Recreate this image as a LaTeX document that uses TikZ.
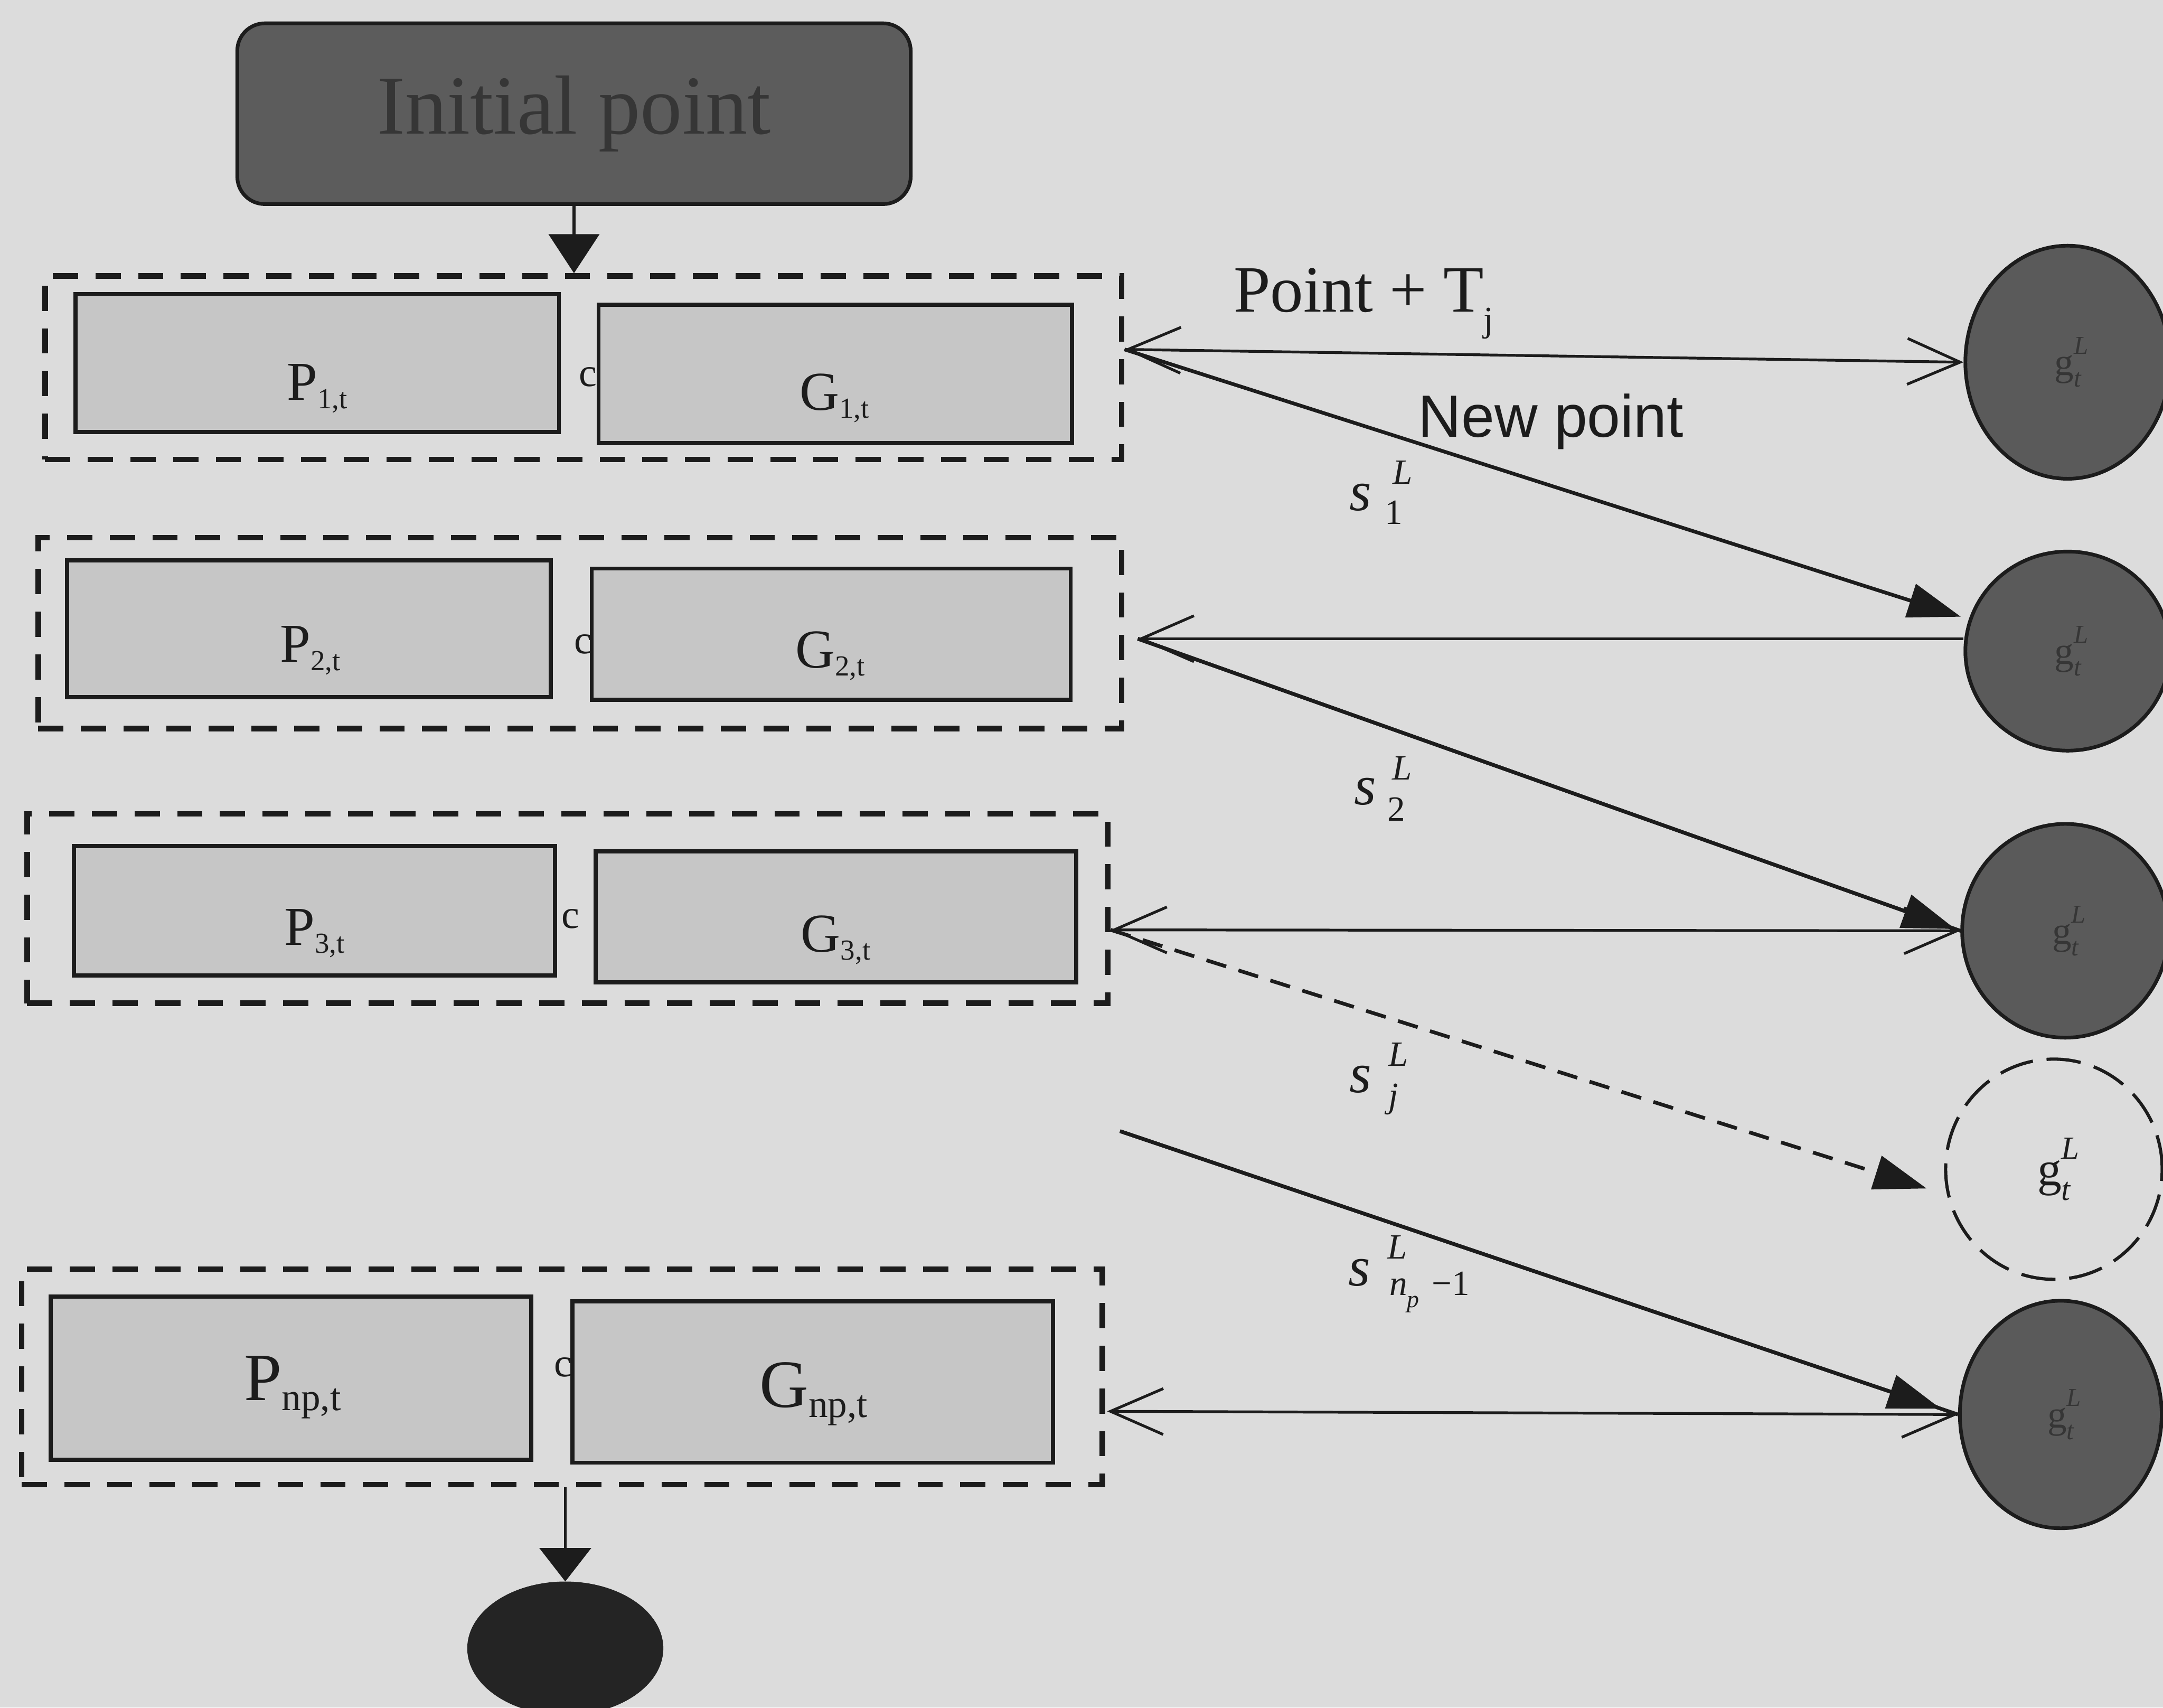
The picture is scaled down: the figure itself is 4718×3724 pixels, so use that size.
\documentclass[tikz,border=0pt]{standalone}
\usepackage{fontspec}
\setmainfont{Liberation Serif}
\newfontfamily\sansfont{Liberation Sans}
\usetikzlibrary{arrows.meta,shapes.geometric,calc}

\newcommand\fs[1]{\fontsize{#1}{#1}\selectfont}
% lowered index in a box label
\newcommand\lowidx[2]{\raisebox{-0.15em}{\fs{#1}#2}}
% g with stacked italic L and t
\newcommand\glabel[1]{g\rlap{\raisebox{0.55em}{\fs{#1}\itshape L}}\raisebox{-0.3em}{\fs{#1}\itshape t}}

\definecolor{bg}{HTML}{DCDCDC}
\definecolor{cellfill}{HTML}{C6C6C6}
\definecolor{darkfill}{HTML}{5A5A5A}
\definecolor{startfill}{HTML}{5C5C5C}
\definecolor{ink}{HTML}{1C1C1C}
\definecolor{endfill}{HTML}{242424}
\definecolor{dimtext}{HTML}{363636}

\begin{document}
\begin{tikzpicture}[x=0.01cm,y=-0.01cm,
  startbox/.style={rectangle, rounded corners=0.6cm, draw=ink, fill=startfill,
    line width=0.08cm, minimum width=14.68cm, minimum height=3.94cm,
    text=dimtext, font=\fs{52pt}},
  group/.style={rectangle, draw=ink, line width=0.12cm,
    dash pattern=on 0.55cm off 0.38cm, inner sep=0},
  cell/.style={rectangle, draw=ink, fill=cellfill, line width=0.09cm, inner sep=0},
  celltext/.style={anchor=base, inner sep=0, text=ink},
  joint/.style={inner sep=0, font=\fs{25pt}, text=ink},
  gnode/.style={ellipse, draw=ink, fill=darkfill, line width=0.08cm, inner sep=0,
    text=dimtext, font=\fs{24pt}},
  gghost/.style={ellipse, draw=ink, line width=0.07cm, dash pattern=on 0.75cm off 0.3cm,
    inner sep=0, text=ink, font=\fs{30pt}},
  link/.style={draw=ink, line width=0.06cm},
  diag/.style={draw=ink, line width=0.08cm},
  barbs/.style={arrows={Straight Barb[length=1.15cm,width=1.0cm]-Straight Barb[length=1.15cm,width=1.0cm]}},
  barbend/.style={arrows={-Straight Barb[length=1.15cm,width=1.0cm]}},
  headtip/.style={arrows={-Triangle[length=1.15cm,width=0.75cm]}},
  sym/.style={inner sep=0, text=ink, font=\fs{35pt}\itshape},
  idx/.style={inner sep=0, text=ink, font=\fs{22pt}},
]
\fill[bg] (0,0) rectangle (4718,3724);
\useasboundingbox (0,0) rectangle (4718,3724);
\clip (0,0) rectangle (4718,3724);

% start block
\node[startbox] (init) at (1252,248) {Initial point};

% dashed groups
\node[group, minimum width=23.47cm, minimum height=4.00cm] (d1) at (1272.5,802) {};
\node[group, minimum width=23.62cm, minimum height=4.16cm] (d2) at (1265,1381) {};
\node[group, minimum width=23.56cm, minimum height=4.13cm] (d3) at (1238,1981.5) {};
\node[group, minimum width=23.56cm, minimum height=4.70cm] (d4) at (1226,3003) {};

% P and G cells
\node[cell, minimum width=10.54cm, minimum height=3.01cm] (p1) at (692,791.5) {};
\node[cell, minimum width=10.32cm, minimum height=3.01cm] (q1) at (1822,815.5) {};
\node[cell, minimum width=10.54cm, minimum height=2.98cm] (p2) at (674,1371) {};
\node[cell, minimum width=10.44cm, minimum height=2.86cm] (q2) at (1813,1383) {};
\node[cell, minimum width=10.48cm, minimum height=2.82cm] (p3) at (686,1986) {};
\node[cell, minimum width=10.47cm, minimum height=2.85cm] (q3) at (1823.5,1999.5) {};
\node[cell, minimum width=10.47cm, minimum height=3.56cm] (p4) at (634.5,3006) {};
\node[cell, minimum width=10.47cm, minimum height=3.52cm] (q4) at (1772.5,3014) {};

\node[celltext, font=\fs{34pt}] (p1t) at (692,873) {P\lowidx{18pt}{1,t}};
\node[celltext, font=\fs{34pt}] (q1t) at (1820,894) {G\lowidx{18pt}{1,t}};
\node[celltext, font=\fs{34pt}] (p2t) at (677,1444) {P\lowidx{18pt}{2,t}};
\node[celltext, font=\fs{34pt}] (q2t) at (1811,1456) {G\lowidx{18pt}{2,t}};
\node[celltext, font=\fs{34pt}] (p3t) at (686,2061) {P\lowidx{18pt}{3,t}};
\node[celltext, font=\fs{34pt}] (q3t) at (1823,2076) {G\lowidx{18pt}{3,t}};
\node[celltext, font=\fs{42pt}] (p4t) at (638,3054) {P\lowidx{24pt}{np,t}};
\node[celltext, font=\fs{42pt}] (q4t) at (1775,3069) {G\lowidx{24pt}{np,t}};

\node[joint] (c1) at (1282,822) {c};
\node[joint] (c2) at (1272,1405) {c};
\node[joint] (c3) at (1245,2004) {c};
\node[joint] (c4) at (1228,2982) {c};

% candidate points
\node[gnode, minimum width=4.46cm, minimum height=5.08cm] (e1) at (4510,790) {\glabel{16pt}};
\node[gnode, minimum width=4.46cm, minimum height=4.34cm] (e2) at (4510,1420) {\glabel{16pt}};
\node[gnode, minimum width=4.50cm, minimum height=4.66cm] (e3) at (4505,2030) {\glabel{16pt}};
\node[gghost, minimum width=4.72cm, minimum height=4.80cm] (ed) at (4480,2550) {\glabel{20pt}};
\node[gnode, minimum width=4.40cm, minimum height=4.96cm] (e4) at (4495,3085) {\glabel{16pt}};

% end marker
\node[ellipse, fill=endfill, draw=endfill, minimum width=4.26cm, minimum height=2.9cm,
  inner sep=0] (fin) at (1233,3595) {};

% texts along the links
\node[anchor=base west, inner sep=0, text=ink, font=\fs{41pt}] (ptj) at (2690,680)
  {Point + T\raisebox{-0.3em}{\fs{22pt}j}};
\node[anchor=base west, inner sep=0, text=ink, font=\sansfont\fs{37pt}] (newpt) at (3093,953)
  {New point};

\node[sym] (s1) at (2968,1085) {s};
\node[idx, font=\fs{22pt}\itshape] (s1u) at (3060,1030) {L};
\node[idx] (s1d) at (3040,1118) {1};
\node[sym] (s2) at (2978,1727) {s};
\node[idx, font=\fs{22pt}\itshape] (s2u) at (3058,1675) {L};
\node[idx] (s2d) at (3046,1765) {2};
\node[sym] (sj) at (2968,2354) {s};
\node[idx, font=\fs{22pt}\itshape] (sju) at (3050,2300) {L};
\node[idx, font=\fs{22pt}\itshape] (sjd) at (3040,2398) {j};
\node[sym] (sn) at (2965,2776) {s};
\node[idx, font=\fs{22pt}\itshape] (snu) at (3048,2720) {L};
\node[idx, anchor=west] (snd) at (3030,2818)
  {\textit{n}\raisebox{-0.35em}{\fs{15pt}\itshape p}\hspace{0.35em}−1};

% vertical flow
\draw[link, -{Triangle[length=0.85cm,width=1.1cm]}] (init.south) -- (init.south |- d1.north);
\draw[link, -{Triangle[length=0.73cm,width=1.12cm]}] (fin.north |- d4.south) -- (fin.north);

% row 1
\coordinate (a1) at ($(d1.east)+(0,-40)$);
\draw[link, barbs] (a1) -- (e1.west);
\draw[diag, headtip] (a1) -- ($(e2.west)+(-6,-75)$);

% row 2
\coordinate (a2) at ($(d2.east)+(29,12)$);
\draw[link, barbend] ($(e2.west)+(0,-27)$) -- (a2);
\draw[diag] (a2) -- (e3.west);
\draw[diag, headtip, shorten >=0.12cm] (a2) -- (e3.west);

% row 3
\coordinate (a3) at ($(d3.east)+(0,46.5)$);
\draw[link, barbs] (a3) -- (e3.west);
\draw[diag, dash pattern=on 0.45cm off 0.28cm, headtip] (a3) -- ($(ed.west)+(-38,42)$);

% row np
\coordinate (a5) at (2443,2467);
\draw[diag] (a5) -- (e4.west);
\draw[diag, headtip, shorten >=0.4cm] (a5) -- (e4.west);
\coordinate (a4) at ($(d4.east)+(4,75)$);
\draw[link, barbs] (a4) -- (e4.west);
\end{tikzpicture}
\end{document}
